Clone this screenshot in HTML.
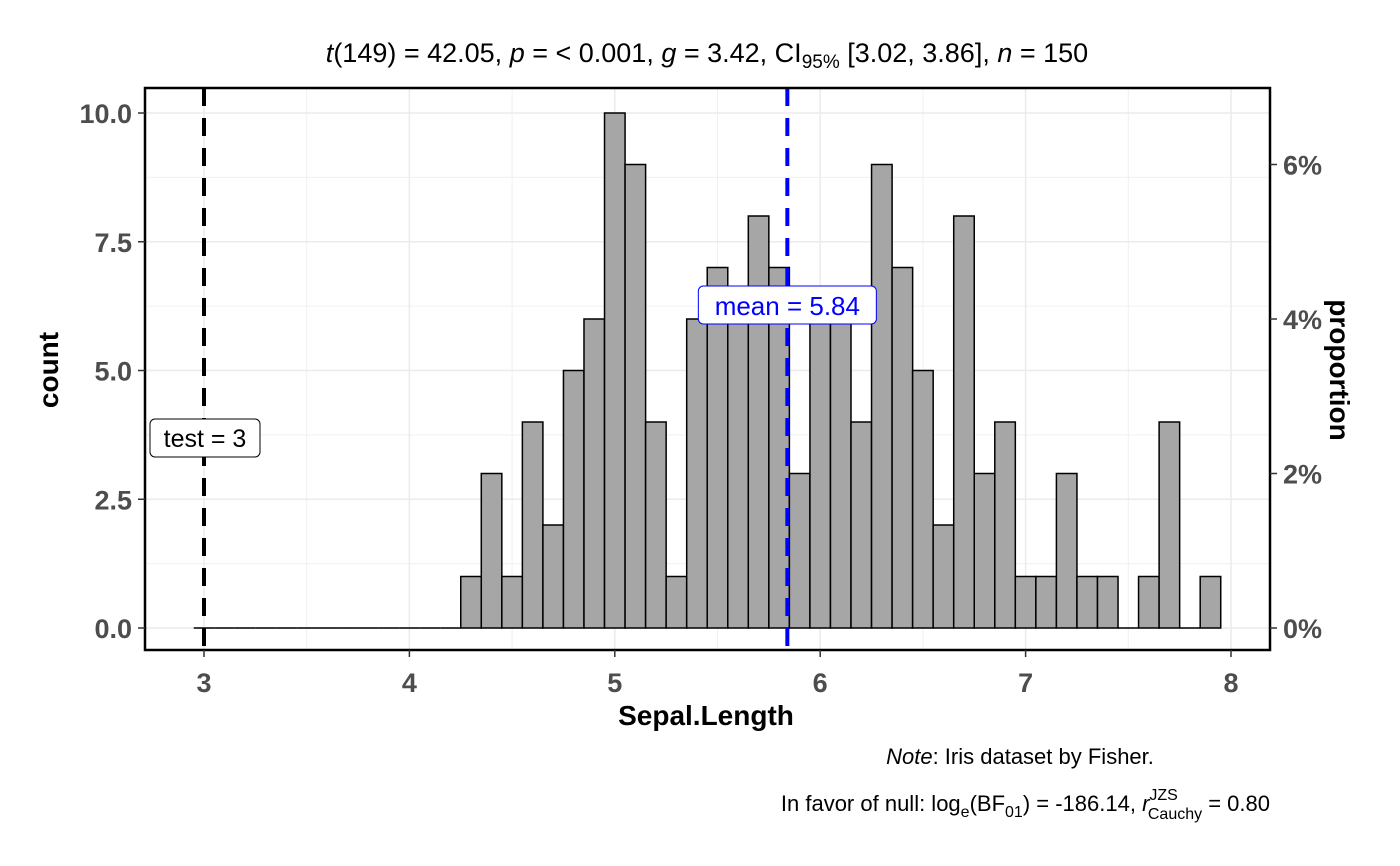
<!DOCTYPE html>
<html><head><meta charset="utf-8"><style>
body{margin:0;background:#fff;}
svg{display:block;font-family:"Liberation Sans",Arial,sans-serif;}
</style></head><body>
<svg id="chart" width="1400" height="866" viewBox="0 0 1400 866">
<text x="707" y="62" font-size="27" text-anchor="middle"><tspan font-style="italic">t</tspan>(149) = 42.05, <tspan font-style="italic">p</tspan> = &lt; 0.001, <tspan font-style="italic">g</tspan> = 3.42, CI<tspan font-size="19" dy="6">95%</tspan><tspan dy="-6"> [3.02, 3.86], </tspan><tspan font-style="italic">n</tspan> = 150</text>
<g id="grid"></g>
<g id="bars"></g>
<g id="lines"></g>
<rect x="145" y="88" width="1125" height="562" fill="none" stroke="#000" stroke-width="2.5"/>
<g id="axes"></g>
<text x="706" y="725" font-size="28" font-weight="bold" text-anchor="middle">Sepal.Length</text>
<text transform="translate(58,370) rotate(-90)" font-size="28" font-weight="bold" text-anchor="middle">count</text>
<text transform="translate(1330,370) rotate(90)" font-size="28" font-weight="bold" text-anchor="middle">proportion</text>
<text x="1020" y="764" font-size="22" text-anchor="middle"><tspan font-style="italic">Note</tspan>: Iris dataset by Fisher.</text>
<text x="1270" y="811" font-size="22" text-anchor="end">In favor of null: log<tspan font-size="16" dy="6">e</tspan><tspan dy="-6">(BF</tspan><tspan font-size="16" dy="6">01</tspan><tspan dy="-6">) = -186.14, </tspan><tspan font-style="italic">r</tspan><tspan font-size="16" dy="-11">JZS</tspan><tspan font-size="16" dx="-30" dy="19">Cauchy</tspan><tspan dy="-8"> = 0.80</tspan></text>
</svg>
<script>
const binCenters=[3.0,3.1,3.2,3.3,3.4,3.5,3.6,3.7,3.8,3.9,4.0,4.1,4.2,4.3,4.4,4.5,4.6,4.7,4.8,4.9,5.0,5.1,5.2,5.3,5.4,5.5,5.6,5.7,5.8,5.9,6.0,6.1,6.2,6.3,6.4,6.5,6.6,6.7,6.8,6.9,7.0,7.1,7.2,7.3,7.4,7.5,7.6,7.7,7.8,7.9];
const counts=[0,0,0,0,0,0,0,0,0,0,0,0,0,1,3,1,4,2,5,6,10,9,4,1,6,7,6,8,7,3,6,6,4,9,7,5,2,8,3,4,1,1,3,1,1,0,1,4,0,1];
const xTicks=[3,4,5,6,7,8];
const yTicks=[0,2.5,5,7.5,10];
const yTickLabels=["0.0","2.5","5.0","7.5","10.0"];
const propTicks=[0,0.02,0.04,0.06];
const propTickLabels=["0%","2%","4%","6%"];
const nTotal=150, binWidth=0.1, testValue=3, meanValue=5.84;
const NS='http://www.w3.org/2000/svg';
const X=v=>204+(v-3)*205.4;
const Y=v=>628-v*51.5;
const L=145,R=1270,T=88,B=650;
function mk(tag,attrs,parent){const e=document.createElementNS(NS,tag);for(const k in attrs)e.setAttribute(k,attrs[k]);parent.appendChild(e);return e;}
const grid=document.getElementById('grid'),bars=document.getElementById('bars'),lines=document.getElementById('lines'),axes=document.getElementById('axes');
for(let v=3.5;v<8;v+=1){const g=mk('line',{x1:X(v),x2:X(v),y1:T,y2:B,stroke:'#f0f0f0','stroke-width':1},grid);

}
for(let v=1.25;v<11;v+=2.5){const g=mk('line',{x1:L,x2:R,y1:Y(v),y2:Y(v),stroke:'#f0f0f0','stroke-width':1},grid);

}
xTicks.forEach(v=>{const g=mk('line',{x1:X(v),x2:X(v),y1:T,y2:B,stroke:'#ebebeb','stroke-width':1.5},grid);

});
yTicks.forEach(v=>{const g=mk('line',{x1:L,x2:R,y1:Y(v),y2:Y(v),stroke:'#ebebeb','stroke-width':1.5},grid);

});
binCenters.forEach((c,i)=>{const n=counts[i];const x0=X(c-binWidth/2),x1=X(c+binWidth/2);
if(n>0){const r=mk('rect',{x:x0,y:Y(n),width:x1-x0,height:Y(0)-Y(n),fill:'#a6a6a6',stroke:'#000','stroke-width':1.5},bars);

}
else{const r=mk('line',{x1:x0,x2:x1,y1:Y(0),y2:Y(0),stroke:'#000','stroke-width':1.5},bars);

}});
const tl=mk('line',{x1:X(testValue),x2:X(testValue),y1:T,y2:B,stroke:'#000','stroke-width':4,'stroke-dasharray':'18,12'},lines);


const ml=mk('line',{x1:X(meanValue),x2:X(meanValue),y1:T,y2:B,stroke:'#0000ff','stroke-width':4,'stroke-dasharray':'18,12'},lines);


const tb=mk('rect',{x:X(testValue)-54,y:419,width:110,height:38,rx:5,fill:'#fff',stroke:'#000','stroke-width':1},lines);


const tt=mk('text',{x:X(testValue)+1,y:447,'font-size':25,'text-anchor':'middle'},lines);tt.textContent='test = 3';


const mb=mk('rect',{x:X(meanValue)-89,y:286,width:178,height:38,rx:5,fill:'#fff',stroke:'#0000ff','stroke-width':1},lines);


const mt=mk('text',{x:X(meanValue),y:315,'font-size':26,'text-anchor':'middle',fill:'#0000ff'},lines);mt.textContent='mean = '+meanValue.toFixed(2);


xTicks.forEach(v=>{const t=mk('line',{x1:X(v),x2:X(v),y1:B,y2:B+7,stroke:'#333','stroke-width':1.5},axes);


const l=mk('text',{x:X(v),y:B+42,'font-size':27,'font-weight':'bold','text-anchor':'middle',fill:'#4d4d4d'},axes);l.textContent=v;

});
yTicks.forEach((v,i)=>{const t=mk('line',{x1:L-7,x2:L,y1:Y(v),y2:Y(v),stroke:'#333','stroke-width':1.5},axes);


const l=mk('text',{x:L-13,y:Y(v)+10,'font-size':27,'font-weight':'bold','text-anchor':'end',fill:'#4d4d4d'},axes);l.textContent=yTickLabels[i];

});
propTicks.forEach((p,i)=>{const y=Y(p*nTotal);const t=mk('line',{x1:R,x2:R+7,y1:y,y2:y,stroke:'#333','stroke-width':1.5},axes);


const l=mk('text',{x:R+13,y:y+10,'font-size':27,'font-weight':'bold',fill:'#4d4d4d'},axes);l.textContent=propTickLabels[i];

});
</script>
</body></html>
